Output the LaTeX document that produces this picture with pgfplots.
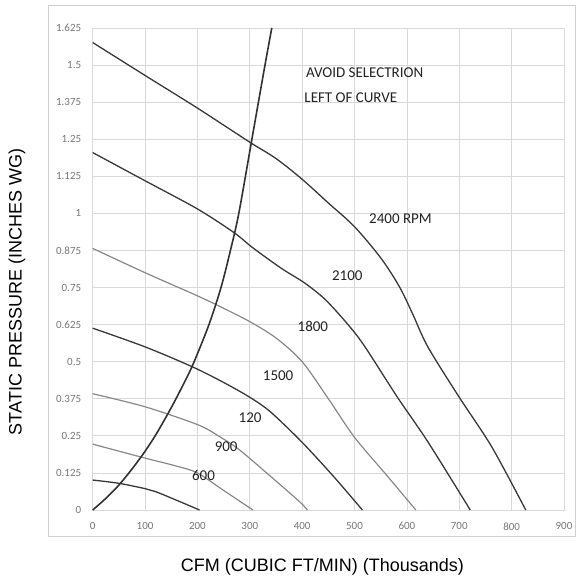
\documentclass[border=0pt]{standalone}
\usepackage{fontspec}
\setmainfont{Carlito}
\newfontfamily\labelfont{Liberation Sans}
\usepackage{pgfplots}
\pgfplotsset{compat=1.18}

\definecolor{gridgray}{HTML}{D9D9D9}
\definecolor{framegray}{HTML}{D0D0D0}
\definecolor{tickgray}{HTML}{767676}
\definecolor{darkcurve}{HTML}{383838}
\definecolor{lightcurve}{HTML}{888888}
\definecolor{notegray}{HTML}{222222}

\begin{document}
\begin{tikzpicture}
  \draw[framegray, line width=0.8pt] (-44.7pt,-26pt) rectangle (482.8pt,505pt);
  \begin{axis}[
    scale only axis,
    width=471.3pt, height=482pt,
    xmin=0, xmax=900, ymin=0, ymax=1.625,
    xtick={0,100,200,300,400,500,600,700,800,900},
    xticklabels={0,100,200,300,400,500,600,700,800,900},
    ytick={0,0.125,0.25,0.375,0.5,0.625,0.75,0.875,1,1.125,1.25,1.375,1.5,1.625},
    yticklabels={0,0.125,0.25,0.375,0.5,0.625,0.75,0.875,1,1.125,1.25,1.375,1.5,1.625},
    grid=major,
    major grid style={draw=gridgray, line width=0.8pt},
    axis line style={draw=gridgray, line width=0.8pt},
    tick style={draw=none},
    tick label style={font=\fontsize{11}{13}\selectfont, text=tickgray},
    xticklabel style={yshift=-9pt},
    yticklabel style={xshift=-8pt},
    xlabel={\labelfont CFM (CUBIC FT/MIN) (Thousands)},
    ylabel={\labelfont STATIC PRESSURE (INCHES WG)},
    label style={font=\fontsize{18}{20}\selectfont, text=black},
    xlabel style={at={(axis description cs:0.4876,-0.118)}, anchor=center},
    ylabel style={at={(axis description cs:-0.1606,0.452)}, anchor=center},
    clip=false,
    every axis plot/.append style={smooth, tension=0.5},
  ]
  % lowest curve (600 label)
  \addplot[darkcurve, line width=1.3pt] coordinates {
    (0,0.101) (50,0.090) (100,0.072) (120,0.062) (160,0.033) (204,0)
  };
  % 900 label
  \addplot[lightcurve, line width=1.2pt] coordinates {
    (0,0.222) (100,0.175) (160,0.148) (200,0.125) (250,0.066) (306,0)
  };
  % 120 label
  \addplot[lightcurve, line width=1.2pt] coordinates {
    (0,0.392) (100,0.348) (200,0.288) (240,0.250) (280,0.203) (340,0.113) (395,0.028) (410,0)
  };
  % 1500 label
  \addplot[darkcurve, line width=1.3pt] coordinates {
    (0,0.613) (100,0.550) (190,0.483) (250,0.430) (300,0.380) (340,0.330) (400,0.228) (460,0.113) (515,0)
  };
  % 1800 label
  \addplot[lightcurve, line width=1.2pt] coordinates {
    (0,0.882) (100,0.800) (200,0.722) (250,0.680) (300,0.635) (350,0.580) (400,0.500) (450,0.375) (500,0.245) (560,0.120) (617,0)
  };
  % 2100 label
  \addplot[darkcurve, line width=1.3pt] coordinates {
    (0,1.205) (100,1.110) (200,1.015) (270,0.935) (305,0.885) (360,0.815) (405,0.765) (445,0.708) (490,0.620) (520,0.550) (582,0.380) (640,0.230) (721,0)
  };
  % 2400 RPM
  \addplot[darkcurve, line width=1.3pt] coordinates {
    (0,1.576) (100,1.465) (200,1.355) (300,1.240) (350,1.185) (400,1.115) (450,1.035) (500,0.955) (550,0.850) (585,0.755) (610,0.665) (640,0.550) (700,0.380) (762,0.213) (827,0)
  };
  % selection limit curve
  \addplot[darkcurve!90!black, line width=1.6pt] coordinates {
    (0,0) (25,0.039) (49,0.082) (75,0.138) (100,0.198) (122,0.258) (150,0.345) (175,0.430) (193,0.497) (222,0.625) (245,0.750) (263,0.875) (279,1.000) (304,1.250) (329,1.500) (342,1.625)
  };

  \begin{scope}[every node/.style={inner sep=0pt, anchor=west, text=notegray, font=\fontsize{15}{17}\selectfont}]
    \node at (axis cs:407,1.476) {AVOID SELECTRION};
    \node at (axis cs:404,1.390) {LEFT OF CURVE};
    \node at (axis cs:527.7,0.983) {2400 RPM};
    \node at (axis cs:456.7,0.790) {2100};
    \node at (axis cs:391,0.618) {1800};
    \node at (axis cs:324.7,0.452) {1500};
    \node at (axis cs:278.4,0.3125) {120};
    \node at (axis cs:232.7,0.213) {900};
    \node at (axis cs:189.5,0.1157) {600};
  \end{scope}
  \end{axis}
  \pgfresetboundingbox
  \path (-92.7pt,-69pt) rectangle (483.3pt,510pt);
\end{tikzpicture}
\end{document}
